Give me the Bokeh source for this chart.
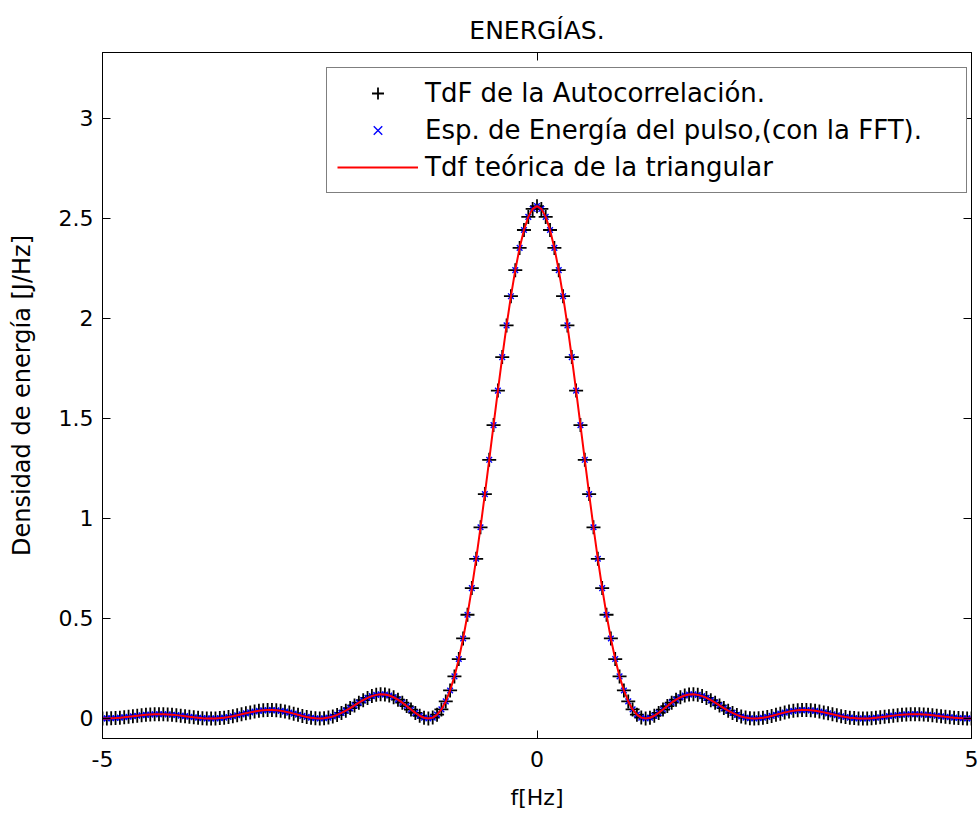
from bokeh.plotting import figure
from bokeh.models import (Range1d, FixedTicker, LinearAxis, Legend, LegendItem,
                          ColumnDataSource)
from bokeh.embed import file_html
from bokeh.resources import INLINE

# ---------------- data ----------------
frecuencia = [
    -5.00, -4.95, -4.90, -4.85, -4.80, -4.75, -4.70, -4.65, -4.60, -4.55,
    -4.50, -4.45, -4.40, -4.35, -4.30, -4.25, -4.20, -4.15, -4.10, -4.05,
    -4.00, -3.95, -3.90, -3.85, -3.80, -3.75, -3.70, -3.65, -3.60, -3.55,
    -3.50, -3.45, -3.40, -3.35, -3.30, -3.25, -3.20, -3.15, -3.10, -3.05,
    -3.00, -2.95, -2.90, -2.85, -2.80, -2.75, -2.70, -2.65, -2.60, -2.55,
    -2.50, -2.45, -2.40, -2.35, -2.30, -2.25, -2.20, -2.15, -2.10, -2.05,
    -2.00, -1.95, -1.90, -1.85, -1.80, -1.75, -1.70, -1.65, -1.60, -1.55,
    -1.50, -1.45, -1.40, -1.35, -1.30, -1.25, -1.20, -1.15, -1.10, -1.05,
    -1.00, -0.95, -0.90, -0.85, -0.80, -0.75, -0.70, -0.65, -0.60, -0.55,
    -0.50, -0.45, -0.40, -0.35, -0.30, -0.25, -0.20, -0.15, -0.10, -0.05,
    0.00,
    0.05, 0.10, 0.15, 0.20, 0.25, 0.30, 0.35, 0.40, 0.45, 0.50,
    0.55, 0.60, 0.65, 0.70, 0.75, 0.80, 0.85, 0.90, 0.95, 1.00,
    1.05, 1.10, 1.15, 1.20, 1.25, 1.30, 1.35, 1.40, 1.45, 1.50,
    1.55, 1.60, 1.65, 1.70, 1.75, 1.80, 1.85, 1.90, 1.95, 2.00,
    2.05, 2.10, 2.15, 2.20, 2.25, 2.30, 2.35, 2.40, 2.45, 2.50,
    2.55, 2.60, 2.65, 2.70, 2.75, 2.80, 2.85, 2.90, 2.95, 3.00,
    3.05, 3.10, 3.15, 3.20, 3.25, 3.30, 3.35, 3.40, 3.45, 3.50,
    3.55, 3.60, 3.65, 3.70, 3.75, 3.80, 3.85, 3.90, 3.95, 4.00,
    4.05, 4.10, 4.15, 4.20, 4.25, 4.30, 4.35, 4.40, 4.45, 4.50,
    4.55, 4.60, 4.65, 4.70, 4.75, 4.80, 4.85, 4.90, 4.95, 5.00,
]

densidad_energia = [
    0.0000, 0.0003, 0.0010, 0.0023, 0.0041, 0.0062, 0.0086, 0.0111, 0.0137, 0.0160,
    0.0181, 0.0197, 0.0209, 0.0213, 0.0211, 0.0203, 0.0188, 0.0168, 0.0143, 0.0116,
    0.0088, 0.0060, 0.0036, 0.0017, 0.0004, 0.0000, 0.0005, 0.0019, 0.0042, 0.0075,
    0.0114, 0.0160, 0.0208, 0.0257, 0.0305, 0.0347, 0.0382, 0.0407, 0.0420, 0.0420,
    0.0407, 0.0381, 0.0344, 0.0296, 0.0242, 0.0185, 0.0129, 0.0078, 0.0037, 0.0010,
    0.0000, 0.0011, 0.0044, 0.0099, 0.0178, 0.0277, 0.0392, 0.0521, 0.0655, 0.0790,
    0.0916, 0.1028, 0.1118, 0.1180, 0.1207, 0.1197, 0.1148, 0.1061, 0.0940, 0.0791,
    0.0622, 0.0447, 0.0280, 0.0138, 0.0038, 0.0000, 0.0044, 0.0190, 0.0454, 0.0853,
    0.1400, 0.2104, 0.2971, 0.3999, 0.5185, 0.6517, 0.7981, 0.9555, 1.1213, 1.2927,
    1.4663, 1.6386, 1.8058, 1.9642, 2.1102, 2.2403, 2.3515, 2.4410, 2.5066, 2.5465,
    2.5600,
    2.5465, 2.5066, 2.4410, 2.3515, 2.2403, 2.1102, 1.9642, 1.8058, 1.6386, 1.4663,
    1.2927, 1.1213, 0.9555, 0.7981, 0.6517, 0.5185, 0.3999, 0.2971, 0.2104, 0.1400,
    0.0853, 0.0454, 0.0190, 0.0044, 0.0000, 0.0038, 0.0138, 0.0280, 0.0447, 0.0622,
    0.0791, 0.0940, 0.1061, 0.1148, 0.1197, 0.1207, 0.1180, 0.1118, 0.1028, 0.0916,
    0.0790, 0.0655, 0.0521, 0.0392, 0.0277, 0.0178, 0.0099, 0.0044, 0.0011, 0.0000,
    0.0010, 0.0037, 0.0078, 0.0129, 0.0185, 0.0242, 0.0296, 0.0344, 0.0381, 0.0407,
    0.0420, 0.0420, 0.0407, 0.0382, 0.0347, 0.0305, 0.0257, 0.0208, 0.0160, 0.0114,
    0.0075, 0.0042, 0.0019, 0.0005, 0.0000, 0.0004, 0.0017, 0.0036, 0.0060, 0.0088,
    0.0116, 0.0143, 0.0168, 0.0188, 0.0203, 0.0211, 0.0213, 0.0209, 0.0197, 0.0181,
    0.0160, 0.0137, 0.0111, 0.0086, 0.0062, 0.0041, 0.0023, 0.0010, 0.0003, 0.0000,
]

# the three series coincide in the picture
tdf_autocorrelacion = densidad_energia
esp_energia_fft = densidad_energia
tdf_teorica = densidad_energia

series_labels = ["TdF de la Autocorrelación.",
                 "Esp. de Energía del pulso,(con la FFT).",
                 "Tdf teórica de la triangular"]

x_ticks = [-5, 0, 5]
x_tick_labels = ["-5", "0", "5"]
y_ticks = [0, 0.5, 1, 1.5, 2, 2.5, 3]
y_tick_labels = ["0", "0.5", "1", "1.5", "2", "2.5", "3"]

# ---------------- figure ----------------
FONT = "DejaVu Sans"

p = figure(width=980, height=814, output_backend="svg", toolbar_location=None,
           x_range=Range1d(-5, 5), y_range=Range1d(-0.1, 3.328),
           min_border_left=102, min_border_right=9, min_border_top=52,
           min_border_bottom=76, title="ENERGÍAS.")
p.background_fill_color = "white"
p.border_fill_color = "white"
p.outline_line_color = "black"
p.outline_line_width = 1
p.xgrid.visible = False
p.ygrid.visible = False

p.title.align = "center"
p.title.text_font = FONT
p.title.text_font_size = "25px"
p.title.text_font_style = "normal"
p.title.text_color = "black"
p.title.standoff = 16

src = ColumnDataSource(dict(f=frecuencia, a=tdf_autocorrelacion,
                            e=esp_energia_fft, t=tdf_teorica))

r_plus = p.scatter("f", "a", source=src, marker="cross", size=14,
                   line_color="black", line_width=1.8)
r_x = p.scatter("f", "e", source=src, marker="x", size=8,
                line_color="blue", line_width=1.4)
r_line = p.line("f", "t", source=src, line_color="red", line_width=2)


def style_axis(ax, ticks, labels, show_labels=True):
    ax.ticker = FixedTicker(ticks=ticks)
    ax.major_tick_in = 8
    ax.major_tick_out = 0
    ax.minor_tick_line_color = None
    ax.axis_line_color = "black"
    ax.major_tick_line_color = "black"
    ax.major_label_text_font = FONT
    ax.major_label_text_color = "black"
    ax.axis_label_text_font = FONT
    ax.axis_label_text_font_style = "normal"
    ax.axis_label_text_color = "black"
    if show_labels:
        ax.major_label_overrides = {t: l for t, l in zip(ticks, labels)}
        ax.major_label_text_font_size = "22px"
    else:
        ax.major_label_overrides = {t: "" for t in ticks}
        ax.major_label_text_font_size = "8px"
        ax.major_label_standoff = 0


xa = p.xaxis[0]
style_axis(xa, x_ticks, x_tick_labels)
xa.axis_label = "f[Hz]"
xa.axis_label_text_font_size = "22px"
xa.major_label_standoff = 12
xa.axis_label_standoff = 15

ya = p.yaxis[0]
style_axis(ya, y_ticks, y_tick_labels)
ya.axis_label = "Densidad de energía [J/Hz]"
ya.axis_label_text_font_size = "24px"
ya.major_label_standoff = 9
ya.axis_label_standoff = 20

top_ax = LinearAxis()
style_axis(top_ax, x_ticks, x_tick_labels, show_labels=False)
p.add_layout(top_ax, "above")
right_ax = LinearAxis()
style_axis(right_ax, y_ticks, y_tick_labels, show_labels=False)
p.add_layout(right_ax, "right")

legend = Legend(items=[LegendItem(label=series_labels[0], renderers=[r_plus]),
                       LegendItem(label=series_labels[1], renderers=[r_x]),
                       LegendItem(label=series_labels[2], renderers=[r_line])],
                location=(224, 545))
legend.border_line_color = "black"
legend.border_line_width = 1
legend.background_fill_color = "white"
legend.background_fill_alpha = 1
legend.padding = 10
legend.spacing = 7
legend.margin = 0
legend.glyph_width = 81
legend.glyph_height = 30
legend.label_height = 30
legend.label_width = 531
legend.label_standoff = 7
legend.label_text_font = FONT
legend.label_text_font_size = "26px"
legend.label_text_color = "black"
p.add_layout(legend)

open("out.html", "w").write(file_html(p, INLINE))
